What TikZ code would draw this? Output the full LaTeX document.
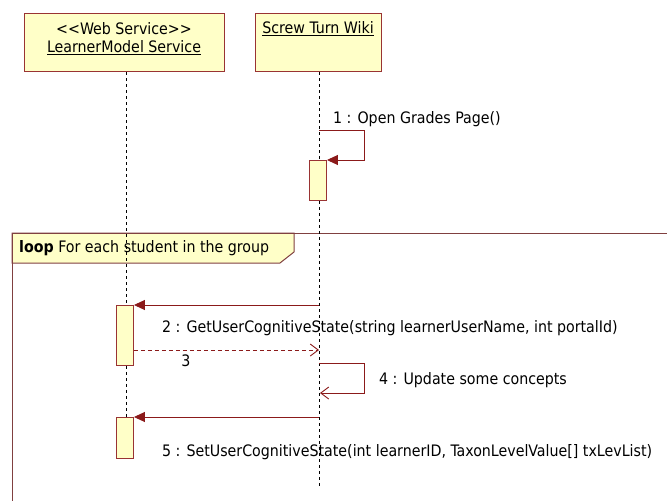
\documentclass[tikz,border=0pt]{standalone}
\usepackage{fontspec}
\setmainfont{DejaVu Sans Condensed}
\usetikzlibrary{arrows.meta}
\definecolor{umlred}{HTML}{8B1A1A}
\definecolor{umlborder}{HTML}{993333}
\definecolor{umlframe}{HTML}{804040}
\definecolor{umlfill}{HTML}{FFFFC8}
\begin{document}
\begin{tikzpicture}[x=1pt,y=-1pt,
  every node/.style={font=\fontsize{15.8}{19}\selectfont, inner sep=0pt},
  header/.style={draw=umlborder, fill=umlfill, line width=1pt, anchor=north west},
  actbox/.style={draw=umlborder, fill=umlfill, line width=0.9pt, minimum width=17pt, anchor=north},
  lifeline/.style={draw=black, line width=0.8pt, dash pattern=on 3pt off 3pt},
  syncmsg/.style={draw=umlred, line width=0.9pt, -{Triangle[length=11pt,width=10pt]}},
  selfopen/.style={draw=umlred, line width=0.9pt, -{Straight Barb[length=8pt,width=12pt]}},
  retmsg/.style={draw=umlred, line width=0.9pt, dash pattern=on 4pt off 3pt, -{Straight Barb[length=8pt,width=12pt]}},
  frameline/.style={draw=umlframe, line width=1pt},
  lbl/.style={anchor=west, text=black}]
\useasboundingbox[fill=white] (0,0) rectangle (667,501);

% loop frame
\coordinate (fTL) at (12,233);
\coordinate (fTR) at (667,233);
\coordinate (fBL) at (12,501);
\draw[frameline, fill=umlfill] (fTL) -- (294,233) -- (294,252) -- (280,263) -- (12,263) -- cycle;
\draw[frameline] (fTL) -- (fTR);
\draw[frameline] (fTL) -- (fBL);
\node[lbl] (looplbl) at (19,248) {\textbf{loop} For each student in the group};

% headers
\node[header, minimum width=200pt, minimum height=58pt] (lm) at (24,13) {};
\node (lmt1) at (124,29) {<\kern0pt<Web Service>\kern0pt>};
\node (lmt2) at (124,48) {\underline{LearnerModel Service}};
\node[header, minimum width=126pt, minimum height=58pt] (sw) at (255,13) {};
\node (swt) at (318,29) {\underline{Screw Turn Wiki}};

% activation boxes
\node[actbox, minimum height=40pt] (actA) at (318,160) {};
\node[actbox, minimum height=60pt] (actB) at (125,305) {};
\node[actbox, minimum height=41pt] (actC) at (125,417) {};

% lifeline ends
\coordinate (lmEnd) at (126,460);
\coordinate (swEnd) at (319,488);

% lifelines
\draw[lifeline] (lm.south -| lmEnd) -- (actB.north -| lmEnd);
\draw[lifeline] (actB.south -| lmEnd) -- (actC.north -| lmEnd);
\draw[lifeline] (sw.south -| swEnd) -- (actA.north -| swEnd);
\draw[lifeline] (actA.south -| swEnd) -- (swEnd);

% message 1 (self)
\coordinate (m1s) at (319,130);
\draw[syncmsg] (m1s) -- (364,130) -- (364,160) -- (actA.north east);
\node[lbl] (m1l) at (333,119) {1 : Open Grades Page()};

% message 2
\coordinate (m2s) at (319,305);
\draw[syncmsg] (m2s) -- (actB.north east);
\node[lbl] (m2l) at (162,328) {2 : GetUserCognitiveState(string learnerUserName, int portalId)};

% return 3
\coordinate (m3e) at (319,350);
\draw[retmsg] (actB.east |- m3e) -- (m3e);
\node (m3l) at (186,361) {3};

% message 4 (self)
\coordinate (m4s) at (319,363);
\coordinate (m4e) at (320,393);
\draw[selfopen] (m4s) -- (364,363) -- (364,393) -- (m4e);
\node[lbl] (m4l) at (379,380) {4 : Update some concepts};

% message 5
\coordinate (m5s) at (319,417);
\draw[syncmsg] (m5s) -- (actC.north east);
\node[lbl] (m5l) at (162,452) {5 : SetUserCognitiveState(int learnerID, TaxonLevelValue[] txLevList)};
\end{tikzpicture}
\end{document}
